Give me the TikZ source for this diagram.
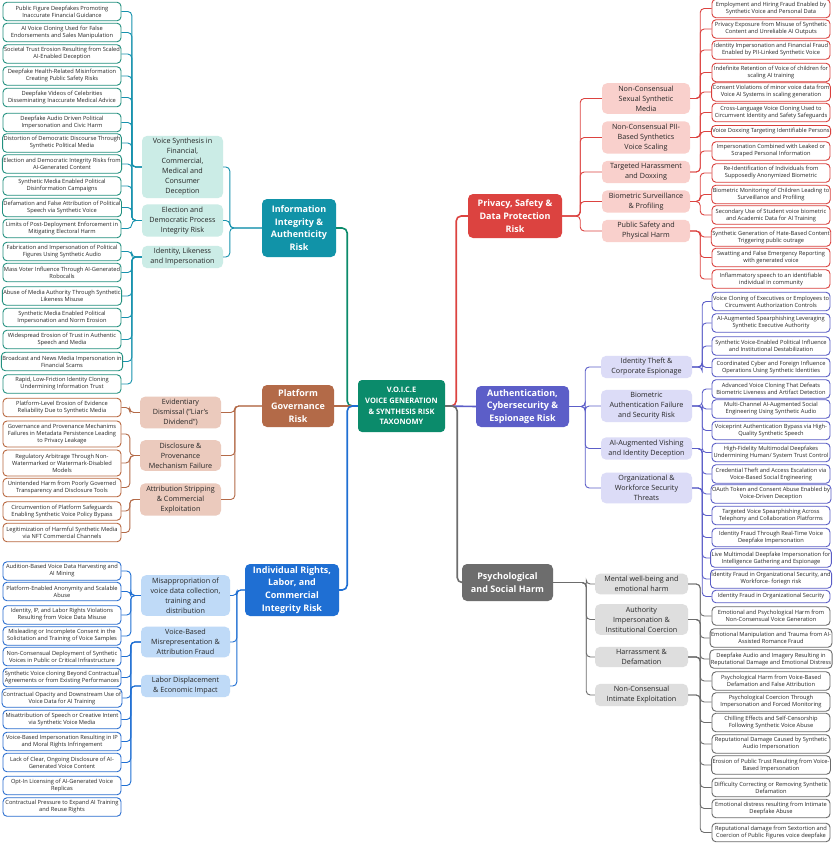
\documentclass[tikz,border=0pt]{standalone}
\usepackage{fontspec}
\setmainfont{Open Sans}
\usetikzlibrary{positioning}

\definecolor{raizc}{HTML}{0B8B6B}
\definecolor{tealc}{HTML}{1193A8}
\definecolor{teall}{HTML}{CBECE6}
\definecolor{tealb}{HTML}{22907F}
\definecolor{teallin}{HTML}{1792AD}
\definecolor{brownc}{HTML}{B36A48}
\definecolor{brownl}{HTML}{EBCABD}
\definecolor{brownb}{HTML}{B8673F}
\definecolor{bluec}{HTML}{1F6FD3}
\definecolor{bluel}{HTML}{BFDAF7}
\definecolor{blueb}{HTML}{2B6ECF}
\definecolor{redc}{HTML}{DC4340}
\definecolor{redl}{HTML}{F9D0CC}
\definecolor{redb}{HTML}{D9403D}
\definecolor{purc}{HTML}{5C5EC8}
\definecolor{purl}{HTML}{DCDCF7}
\definecolor{purb}{HTML}{5A5DC6}
\definecolor{grayc}{HTML}{6D6D6D}
\definecolor{grayl}{HTML}{DEDEDE}
\definecolor{grayb}{HTML}{6B6B6B}
\definecolor{txt}{HTML}{262626}

\begin{document}
\begin{tikzpicture}[
			x=1pt, y=-1pt,
			raiz/.style={fill=raizc, text=white, rounded corners=4pt, align=center, font=\fontsize{7.5}{10.8}\selectfont\bfseries, minimum width=87pt, minimum height=52pt, inner sep=2pt},
			cat/.style={fill=#1, text=white, rounded corners=5pt, align=center, font=\fontsize{9}{12.8}\selectfont\bfseries, inner sep=2pt},
			grp/.style={fill=#1, text=txt, rounded corners=5pt, align=center, font=\fontsize{7.2}{10}\selectfont, inner xsep=1pt, inner ysep=2.5pt},
			leaf/.style={draw=#1, fill=white, text=txt, line width=0.9pt, rounded corners=4pt, align=center, font=\fontsize{5.7}{7}\selectfont, minimum width=118pt, minimum height=18.5pt, inner xsep=1pt, inner ysep=1.2pt},
			fl/.style={draw=#1, line width=1.6pt, rounded corners=5pt},
			lk/.style={draw=#1, line width=0.9pt, rounded corners=4pt}
		]

		\fill[white] (0,0) rectangle (840,849);
		\useasboundingbox (0,0) rectangle (840,849);

		% centro e categorias
		\node[raiz] (root) at (401.5,406) {V.O.I.C.E\\VOICE GENERATION\\\& SYNTHESIS RISK\\TAXONOMY};
		\node[cat=tealc, minimum width=74pt, minimum height=58pt] (info) at (299,228) {Information\\Integrity \&\\Authenticity\\Risk};
		\node[cat=brownc, minimum width=72pt, minimum height=42pt] (plat) at (298,406) {Platform\\Governance\\Risk};
		\node[cat=bluec, minimum width=94pt, minimum height=52pt] (indiv) at (292,590) {Individual Rights,\\Labor, and\\Commercial\\Integrity Risk};
		\node[cat=redc, minimum width=94pt, minimum height=44pt] (priv) at (515,216) {Privacy, Safety \&\\Data Protection\\Risk};
		\node[cat=purc, minimum width=93pt, minimum height=41pt] (auth) at (522.5,406.5) {Authentication,\\Cybersecurity \&\\Espionage Risk};
		\node[cat=grayc, minimum width=91pt, minimum height=37pt] (psych) at (507.5,582.5) {Psychological\\and Social Harm};

		% subcategorias
		\node[grp=teall, minimum width=81pt] (tVS) at (182.5,167) {Voice Synthesis in\\Financial,\\Commercial,\\Medical and\\Consumer\\Deception};
		\node[grp=teall, minimum width=81pt] (tEl) at (182.5,220.5) {Election and\\Democratic Process\\Integrity Risk};
		\node[grp=teall, minimum width=81pt] (tId) at (182.5,257) {Identity, Likeness\\and Impersonation};

		\node[grp=brownl, minimum width=81pt] (bEv) at (180.5,412.5) {Evidentiary\\Dismissal ("Liar's\\Dividend")};
		\node[grp=brownl, minimum width=81pt] (bDi) at (180.5,455.5) {Disclosure \&\\Provenance\\Mechanism Failure};
		\node[grp=brownl, minimum width=81pt] (bAt) at (180.5,499.5) {Attribution Stripping\\\& Commercial\\Exploitation};

		\node[grp=bluel, minimum width=89pt] (uMi) at (185.5,595.5) {Misappropriation of\\voice data collection,\\training and\\distribution};
		\node[grp=bluel, minimum width=89pt] (uVo) at (185.5,642) {Voice-Based\\Misrepresentation \&\\Attribution Fraud};
		\node[grp=bluel, minimum width=89pt] (uLa) at (185.5,686) {Labor Displacement\\\& Economic Impact};

		\node[grp=redl, minimum width=88pt] (rNs) at (646,98.5) {Non-Consensual\\Sexual Synthetic\\Media};
		\node[grp=redl, minimum width=88pt] (rPi) at (646,137.5) {Non-Consensual PII-\\Based Synthetics\\Voice Scaling};
		\node[grp=redl, minimum width=88pt] (rTh) at (646,172) {Targeted Harassment\\and Doxxing};
		\node[grp=redl, minimum width=88pt] (rBi) at (646,201.5) {Biometric Surveillance\\\& Profiling};
		\node[grp=redl, minimum width=88pt] (rPs) at (646,231) {Public Safety and\\Physical Harm};

		\node[grp=purl, minimum width=91pt] (pId) at (646.5,367) {Identity Theft \&\\Corporate Espionage};
		\node[grp=purl, minimum width=91pt] (pBi) at (646.5,406) {Biometric\\Authentication Failure\\and Security Risk};
		\node[grp=purl, minimum width=91pt] (pVi) at (646.5,448.5) {AI-Augmented Vishing\\and Identity Deception};
		\node[grp=purl, minimum width=91pt] (pOr) at (646.5,488) {Organizational \&\\Workforce Security\\Threats};

		\node[grp=grayl, minimum width=93pt] (gMe) at (641.5,584) {Mental well-being and\\emotional harm};
		\node[grp=grayl, minimum width=93pt] (gAu) at (641.5,619.5) {Authority\\Impersonation \&\\Institutional Coercion};
		\node[grp=grayl, minimum width=93pt] (gHa) at (641.5,657) {Harrassment \&\\Defamation};
		\node[grp=grayl, minimum width=93pt] (gNc) at (641.5,695) {Non-Consensual\\Intimate Exploitation};

		% folhas - integridade
		\node[leaf=tealb] (t1) at (62,11.5) {Public Figure Deepfakes Promoting\\Inaccurate Financial Guidance};
		\node[leaf=tealb] (t2) at (62,32.5) {AI Voice Cloning Used for False\\Endorsements and Sales Manipulation};
		\node[leaf=tealb] (t3) at (62,54) {Societal Trust Erosion Resulting from Scaled\\AI-Enabled Deception};
		\node[leaf=tealb] (t4) at (62,76) {Deepfake Health-Related Misinformation\\Creating Public Safety Risks};
		\node[leaf=tealb] (t5) at (62,97.5) {Deepfake Videos of Celebrities\\Disseminating Inaccurate Medical Advice};
		\node[leaf=tealb] (t6) at (62,122.5) {Deepfake Audio Driven Political\\Impersonation and Civic Harm};
		\node[leaf=tealb] (t7) at (62,143) {Distortion of Democratic Discourse Through\\Synthetic Political Media};
		\node[leaf=tealb] (t8) at (62,164) {Election and Democratic Integrity Risks from\\AI-Generated Content};
		\node[leaf=tealb] (t9) at (62,186) {Synthetic Media Enabled Political\\Disinformation Campaigns};
		\node[leaf=tealb] (t10) at (62,207.5) {Defamation and False Attribution of Political\\Speech via Synthetic Voice};
		\node[leaf=tealb] (t11) at (62,228.5) {Limits of Post-Deployment Enforcement in\\Mitigating Electoral Harm};
		\node[leaf=tealb] (t12) at (62,251.5) {Fabrication and Impersonation of Political\\Figures Using Synthetic Audio};
		\node[leaf=tealb] (t13) at (62,272.5) {Mass Voter Influence Through AI-Generated\\Robocalls};
		\node[leaf=tealb] (t14) at (62,296) {Abuse of Media Authority Through Synthetic\\Likeness Misuse};
		\node[leaf=tealb] (t15) at (62,317.5) {Synthetic Media Enabled Political\\Impersonation and Norm Erosion};
		\node[leaf=tealb] (t16) at (62,339.5) {Widespread Erosion of Trust in Authentic\\Speech and Media};
		\node[leaf=tealb] (t17) at (62,361.5) {Broadcast and News Media Impersonation in\\Financial Scams};
		\node[leaf=tealb] (t18) at (62,384) {Rapid, Low-Friction Identity Cloning\\Undermining Information Trust};

		% folhas - plataforma
		\node[leaf=brownb] (b1) at (62,407.5) {Platform-Level Erosion of Evidence\\Reliability Due to Synthetic Media};
		\node[leaf=brownb, minimum height=26pt] (b2) at (62,434) {Governance and Provenance Mechanims\\Failures in Metadata Persistence Leading\\to Privacy Leakage};
		\node[leaf=brownb, minimum height=26pt] (b3) at (62,463) {Regulatory Arbitrage Through Non-\\Watermarked or Watermark-Disabled\\Models};
		\node[leaf=brownb] (b4) at (62,487.5) {Unintended Harm from Poorly Governed\\Transparency and Disclosure Tools};
		\node[leaf=brownb] (b5) at (62,511) {Circumvention of Platform Safeguards\\Enabling Synthetic Voice Policy Bypass};
		\node[leaf=brownb] (b6) at (62,532.5) {Legitimization of Harmful Synthetic Media\\via NFT Commercial Channels};

		% folhas - direitos individuais
		\node[leaf=blueb] (u1) at (62,571) {Audition-Based Voice Data Harvesting and\\AI Mining};
		\node[leaf=blueb] (u2) at (62,591.5) {Platform-Enabled Anonymity and Scalable\\Abuse};
		\node[leaf=blueb] (u3) at (62,615) {Identity, IP, and Labor Rights Violations\\Resulting from Voice Data Misuse};
		\node[leaf=blueb] (u4) at (62,636) {Misleading or Incomplete Consent in the\\Solicitation and Training of Voice Samples};
		\node[leaf=blueb] (u5) at (62,656.5) {Non-Consensual Deployment of Synthetic\\Voices in Public or Critical Infrastructure};
		\node[leaf=blueb] (u6) at (62,677.5) {Synthetic Voice cloning Beyond Contractual\\Agreements or from Existing Performances};
		\node[leaf=blueb] (u7) at (62,698) {Contractual Opacity and Downstream Use of\\Voice Data for AI Training};
		\node[leaf=blueb] (u8) at (62,719.5) {Misattribution of Speech or Creative Intent\\via Synthetic Voice Media};
		\node[leaf=blueb] (u9) at (62,741.5) {Voice-Based Impersonation Resulting in IP\\and Moral Rights Infringement};
		\node[leaf=blueb] (u10) at (62,762.5) {Lack of Clear, Ongoing Disclosure of AI-\\Generated Voice Content};
		\node[leaf=blueb] (u11) at (62,785.5) {Opt-In Licensing of AI-Generated Voice\\Replicas};
		\node[leaf=blueb] (u12) at (62,807) {Contractual Pressure to Expand AI Training\\and Reuse Rights};

		% folhas - privacidade
		\node[leaf=redb] (r1) at (771,8.5) {Employment and Hiring Fraud Enabled by\\Synthetic Voice and Personal Data};
		\node[leaf=redb] (r2) at (771,29) {Privacy Exposure from Misuse of Synthetic\\Content and Unreliable AI Outputs};
		\node[leaf=redb] (r3) at (771,50) {Identity Impersonation and Financial Fraud\\Enabled by PII-Linked Synthetic Voice};
		\node[leaf=redb] (r4) at (771,72.5) {Indefinite Retention of Voice of children for\\scaling AI training};
		\node[leaf=redb] (r5) at (771,92) {Consent Violations of minor voice data from\\Voice AI Systems in scaling generation};
		\node[leaf=redb] (r6) at (771,112.5) {Cross-Language Voice Cloning Used to\\Circumvent Identity and Safety Safeguards};
		\node[leaf=redb, minimum height=12pt] (r7) at (771,131.5) {Voice Doxxing Targeting Identifiable Persons};
		\node[leaf=redb] (r8) at (771,151) {Impersonation Combined with Leaked or\\Scraped Personal Information};
		\node[leaf=redb] (r9) at (771,173) {Re-Identification of Individuals from\\Supposedly Anonymized Biometric};
		\node[leaf=redb] (r10) at (771,194.5) {Biometric Monitoring of Children Leading to\\Surveillance and Profiling};
		\node[leaf=redb] (r11) at (771,215) {Secondary Use of Student voice biometric\\and Academic Data for AI Training};
		\node[leaf=redb] (r12) at (771,237) {Synthetic Generation of Hate-Based Content\\Triggering public outrage};
		\node[leaf=redb] (r13) at (771,257.5) {Swatting and False Emergency Reporting\\with generated voice};
		\node[leaf=redb] (r14) at (771,279) {Inflammatory speech to an identifiable\\individual in community};

		% folhas - autenticacao
		\node[leaf=purb] (p1) at (771,301.5) {Voice Cloning of Executives or Employees to\\Circumvent Authorization Controls};
		\node[leaf=purb] (p2) at (771,323) {AI-Augmented Spearphishing Leveraging\\Synthetic Executive Authority};
		\node[leaf=purb] (p3) at (771,346) {Synthetic Voice-Enabled Political Influence\\and Institutional Destabilization};
		\node[leaf=purb] (p4) at (771,367.5) {Coordinated Cyber and Foreign Influence\\Operations Using Synthetic Identities};
		\node[leaf=purb] (p5) at (771,389) {Advanced Voice Cloning That Defeats\\Biometric Liveness and Artifact Detection};
		\node[leaf=purb] (p6) at (771,409) {Multi-Channel AI-Augmented Social\\Engineering Using Synthetic Audio};
		\node[leaf=purb] (p7) at (771,430.5) {Voiceprint Authentication Bypass via High-\\Quality Synthetic Speech};
		\node[leaf=purb] (p8) at (771,452.5) {High-Fidelity Multimodal Deepfakes\\Undermining Human/ System Trust Control};
		\node[leaf=purb] (p9) at (771,474) {Credential Theft and Access Escalation via\\Voice-Based Social Engineering};
		\node[leaf=purb] (p10) at (771,494) {OAuth Token and Consent Abuse Enabled by\\Voice-Driven Deception};
		\node[leaf=purb] (p11) at (771,515.5) {Targeted Voice Spearphishing Across\\Telephony and Collaboration Platforms};
		\node[leaf=purb] (p12) at (771,537.5) {Identity Fraud Through Real-Time Voice\\Deepfake Impersonation};
		\node[leaf=purb] (p13) at (771,558) {Live Multimodal Deepfake Impersonation for\\Intelligence Gathering and Espionage};
		\node[leaf=purb] (p14) at (771,579) {Identity Fraud in Organizational Security, and\\Workforce- foriegn risk};
		\node[leaf=purb, minimum height=12.5pt] (p15) at (771,596.5) {Identity Fraud in Organizational Security};

		% folhas - psicologico
		\node[leaf=grayb] (g1) at (771,616) {Emotional and Psychological Harm from\\Non-Consensual Voice Generation};
		\node[leaf=grayb] (g2) at (771,638) {Emotional Manipulation and Trauma from AI-\\Assisted Romance Fraud};
		\node[leaf=grayb] (g3) at (771,659) {Deepfake Audio and Imagery Resulting in\\Reputational Damage and Emotional Distress};
		\node[leaf=grayb] (g4) at (771,681) {Psychological Harm from Voice-Based\\Defamation and False Attribution};
		\node[leaf=grayb] (g5) at (771,702) {Psychological Coercion Through\\Impersonation and Forced Monitoring};
		\node[leaf=grayb] (g6) at (771,722.5) {Chilling Effects and Self-Censorship\\Following Synthetic Voice Abuse};
		\node[leaf=grayb] (g7) at (771,744) {Reputational Damage Caused by Synthetic\\Audio Impersonation};
		\node[leaf=grayb] (g8) at (771,765) {Erosion of Public Trust Resulting from Voice-\\Based Impersonation};
		\node[leaf=grayb] (g9) at (771,787.5) {Difficulty Correcting or Removing Synthetic\\Defamation};
		\node[leaf=grayb] (g10) at (771,808.5) {Emotional distress resulting from Intimate\\Deepfake Abuse};
		\node[leaf=grayb] (g11) at (771,832.5) {Reputational damage from Sextortion and\\Coercion of Public Figures voice deepfake};

		% ligacoes ao centro
		\draw[fl=raizc] (info.east) -- ++(11,0) |- (root.west);
		\draw[fl=brownc] (plat.east) -- (root.west);
		\draw[fl=bluec] (indiv.east) -- ++(8,0) |- (root.west);
		\draw[fl=redc] (root.east) -- ++(11,0) |- (priv.west);
		\draw[fl=purc] (root.east) -- (auth.west);
		\draw[fl=grayc] (root.east) -- ++(12,0) |- (psych.west);

		% categorias -> subcategorias
		\foreach \s in {tVS,tEl,tId} \draw[lk=teallin] (info.west) -- ++(-32,0) |- (\s.east);
		\foreach \s in {bEv,bDi,bAt} \draw[lk=brownc] (plat.west) -- ++(-27,0) |- (\s.east);
		\foreach \s in {uMi,uVo,uLa} \draw[lk=bluec] (indiv.west) -- ++(-8,0) |- (\s.east);
		\foreach \s in {rNs,rPi,rTh,rBi,rPs} \draw[lk=redc] (priv.east) -- ++(18,0) |- (\s.west);
		\foreach \s in {pId,pBi,pVi,pOr} \draw[lk=purc] (auth.east) -- ++(16,0) |- (\s.west);
		\foreach \s in {gMe,gAu,gHa,gNc} \draw[lk=grayc] (psych.east) -- ++(33,0) |- (\s.west);

		% subcategorias -> folhas
		\foreach \i in {1,...,5} \draw[lk=teallin] (tVS.west) -- ++(-10,0) |- (t\i.east);
		\foreach \i in {6,...,11} \draw[lk=teallin] (tEl.west) -- ++(-10,0) |- (t\i.east);
		\foreach \i in {12,...,18} \draw[lk=teallin] (tId.west) -- ++(-10,0) |- (t\i.east);
		\draw[lk=brownc] (bEv.west) -- ++(-10,0) |- (b1.east);
		\foreach \i in {2,3,4} \draw[lk=brownc] (bDi.west) -- ++(-10,0) |- (b\i.east);
		\foreach \i in {5,6} \draw[lk=brownc] (bAt.west) -- ++(-10,0) |- (b\i.east);
		\foreach \i in {1,...,4} \draw[lk=bluec] (uMi.west) -- ++(-10,0) |- (u\i.east);
		\foreach \i in {5,...,8} \draw[lk=bluec] (uVo.west) -- ++(-10,0) |- (u\i.east);
		\foreach \i in {9,10,11} \draw[lk=bluec] (uLa.west) -- ++(-10,0) |- (u\i.east);
		\foreach \i in {1,2,3} \draw[lk=redc] (rNs.east) -- ++(10,0) |- (r\i.west);
		\foreach \i in {4,5,6} \draw[lk=redc] (rPi.east) -- ++(10,0) |- (r\i.west);
		\foreach \i in {7,8} \draw[lk=redc] (rTh.east) -- ++(10,0) |- (r\i.west);
		\foreach \i in {9,10,11} \draw[lk=redc] (rBi.east) -- ++(10,0) |- (r\i.west);
		\foreach \i in {12,13,14} \draw[lk=redc] (rPs.east) -- ++(10,0) |- (r\i.west);
		\foreach \i in {1,...,4} \draw[lk=purc] (pId.east) -- ++(10,0) |- (p\i.west);
		\foreach \i in {5,...,8} \draw[lk=purc] (pBi.east) -- ++(10,0) |- (p\i.west);
		\foreach \i in {9,...,12} \draw[lk=purc] (pVi.east) -- ++(10,0) |- (p\i.west);
		\foreach \i in {13,14,15} \draw[lk=purc] (pOr.east) -- ++(10,0) |- (p\i.west);
		\foreach \i in {1,2} \draw[lk=grayc] (gMe.east) -- ++(12,0) |- (g\i.west);
		\foreach \i in {3,4,5} \draw[lk=grayc] (gAu.east) -- ++(12,0) |- (g\i.west);
		\foreach \i in {6,...,9} \draw[lk=grayc] (gHa.east) -- ++(12,0) |- (g\i.west);
		\foreach \i in {10,11} \draw[lk=grayc] (gNc.east) -- ++(12,0) |- (g\i.west);
	\end{tikzpicture}
\end{document}
